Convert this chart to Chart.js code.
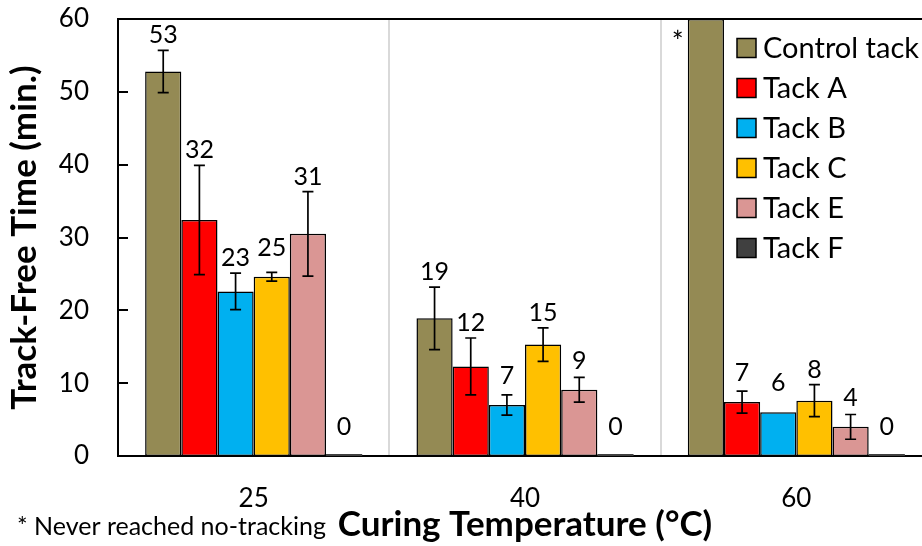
<!DOCTYPE html>
<html>
<head>
<meta charset="utf-8">
<script src="https://cdn.jsdelivr.net/npm/chart.js@4.4.0/dist/chart.umd.min.js"></script>
<style>
  html, body { margin: 0; padding: 0; background: #fff; overflow: hidden; }
  canvas { display: block; }
</style>
</head>
<body>
<canvas id="c" width="940" height="546"></canvas>
<script>
// Curing temperatures (°C)
const temperatures = ['25', '40', '60'];
const seriesNames = ['Control tack', 'Tack A', 'Tack B', 'Tack C', 'Tack E', 'Tack F'];

// Mean track-free time (min.)
const controlTack = [52.8, 18.9, 60];
const tackA = [32.4, 12.3, 7.4];
const tackB = [22.6, 7.0, 6.0];
const tackC = [24.6, 15.3, 7.6];
const tackE = [30.5, 9.1, 4.0];
const tackF = [0, 0, 0];

// Standard deviation (min.)
const controlTackErr = [2.9, 4.3, 0];
const tackAErr = [7.5, 3.9, 1.5];
const tackBErr = [2.5, 1.4, 0];
const tackCErr = [0.6, 2.3, 2.2];
const tackEErr = [5.8, 1.7, 1.7];
const tackFErr = [0, 0, 0];

// Control tack at 60 °C never reached the no-tracking state
const controlNeverReached = [false, false, true];

const yTicks = [0, 10, 20, 30, 40, 50, 60];

const seriesValues = [controlTack, tackA, tackB, tackC, tackE, tackF];
const seriesErrors = [controlTackErr, tackAErr, tackBErr, tackCErr, tackEErr, tackFErr];
const seriesNotes = [controlNeverReached, null, null, null, null, null];
const colors = ['#948A54', '#FF0000', '#00B0F0', '#FFC000', '#DA9694', '#404040'];

const FONT = 'Lato, "Open Sans", sans-serif';

const datasets = seriesNames.map((name, i) => ({
  label: name,
  data: seriesValues[i],
  errors: seriesErrors[i],
  notes: seriesNotes[i],
  backgroundColor: colors[i],
  borderColor: '#000',
  borderWidth: i === 5 ? 0 : 1.5,
  borderSkipped: false,
  minBarLength: i === 5 ? 2 : 0,
  categoryPercentage: 0.8,
  barPercentage: 1.0
}));

// Error bars, value labels and the "never reached" marker
const barAnnotations = {
  id: 'barAnnotations',
  afterDatasetsDraw(chart) {
    const { ctx, scales: { y } } = chart;
    ctx.save();
    chart.data.datasets.forEach((ds, di) => {
      const meta = chart.getDatasetMeta(di);
      meta.data.forEach((bar, idx) => {
        const v = ds.data[idx];
        const e = ds.errors[idx] || 0;
        if (ds.notes && ds.notes[idx]) {
          ctx.fillStyle = '#000';
          ctx.font = '28px ' + FONT;
          ctx.textAlign = 'center';
          ctx.textBaseline = 'middle';
          ctx.fillText('*', bar.x - bar.width / 2 - 10, chart.chartArea.top + 24);
          return;
        }
        const yTop = y.getPixelForValue(v + e);
        if (e > 0) {
          const yBot = y.getPixelForValue(v - e);
          ctx.strokeStyle = '#000';
          ctx.lineWidth = 1.7;
          ctx.beginPath();
          ctx.moveTo(bar.x, yTop); ctx.lineTo(bar.x, yBot);
          ctx.moveTo(bar.x - 5.5, yTop); ctx.lineTo(bar.x + 5.5, yTop);
          ctx.moveTo(bar.x - 5.5, yBot); ctx.lineTo(bar.x + 5.5, yBot);
          ctx.stroke();
        }
        const labelY = Math.min(yTop - 15, y.getPixelForValue(v) - 29);
        ctx.fillStyle = '#000';
        ctx.font = '25px ' + FONT;
        ctx.textAlign = 'center';
        ctx.textBaseline = 'middle';
        ctx.fillText(String(Math.round(v)), bar.x, labelY);
      });
    });
    ctx.restore();
  }
};

// Frame line, inner tick marks, legend and footnote
const frameAndLegend = {
  id: 'frameAndLegend',
  afterDraw(chart) {
    const { ctx, chartArea: ca, scales: { y } } = chart;
    ctx.save();
    ctx.strokeStyle = '#000';
    ctx.lineWidth = 2;
    ctx.beginPath();
    ctx.moveTo(ca.left - 1, ca.top); ctx.lineTo(ca.right, ca.top);
    yTicks.forEach(t => {
      const py = Math.round(y.getPixelForValue(t));
      ctx.moveTo(ca.left, py); ctx.lineTo(ca.left + 10, py);
    });
    ctx.stroke();

    // legend
    const lx = 737, ly0 = 48, step = 40, box = 19;
    ctx.font = '29px ' + FONT;
    ctx.textAlign = 'left';
    ctx.textBaseline = 'middle';
    chart.data.datasets.forEach((ds, i) => {
      const cy = ly0 + i * step;
      ctx.fillStyle = ds.backgroundColor;
      ctx.fillRect(lx, cy - box / 2, box, box);
      ctx.lineWidth = 1.5;
      ctx.strokeStyle = '#000';
      ctx.strokeRect(lx, cy - box / 2, box, box);
      ctx.fillStyle = '#000';
      ctx.fillText(ds.label, 763, cy + 1);
    });

    // footnote
    ctx.font = '25px ' + FONT;
    ctx.fillText('* Never reached no-tracking', 17, 527);
    ctx.restore();
  }
};

new Chart(document.getElementById('c'), {
  type: 'bar',
  data: { labels: temperatures, datasets },
  plugins: [barAnnotations, frameAndLegend],
  options: {
    responsive: false,
    devicePixelRatio: 1,
    animation: false,
    layout: { padding: { top: 19, right: 8, bottom: 0, left: 0 } },
    plugins: { legend: { display: false }, tooltip: { enabled: false } },
    scales: {
      x: {
        grid: { offset: true, color: '#D9D9D9', lineWidth: 2, drawTicks: false },
        border: { display: true, color: '#000', width: 2 },
        ticks: { color: '#000', font: { family: FONT, size: 26 }, padding: 27 },
        title: {
          display: true,
          text: 'Curing Temperature (°C)',
          color: '#000',
          font: { family: FONT, size: 35, weight: 'bold' },
          padding: { top: 0, bottom: 0 }
        },
        afterFit(scale) {
          scale.height = 90;
          scale.paddingLeft = 0; scale.paddingRight = 0;
        }
      },
      y: {
        min: 0,
        max: 60,
        afterBuildTicks(scale) { scale.ticks = yTicks.map(v => ({ value: v })); },
        grid: { display: false, drawTicks: false },
        border: { display: true, color: '#000', width: 2 },
        ticks: { color: '#000', font: { family: FONT, size: 26 }, padding: 29 },
        title: {
          display: true,
          text: 'Track-Free Time (min.)',
          color: '#000',
          font: { family: FONT, size: 35, weight: 'bold' },
          padding: { top: 4, bottom: 0 }
        },
        afterFit(scale) {
          scale.width = 118;
          scale.paddingTop = 0; scale.paddingBottom = 0;
        }
      }
    }
  }
});
</script>
</body>
</html>
